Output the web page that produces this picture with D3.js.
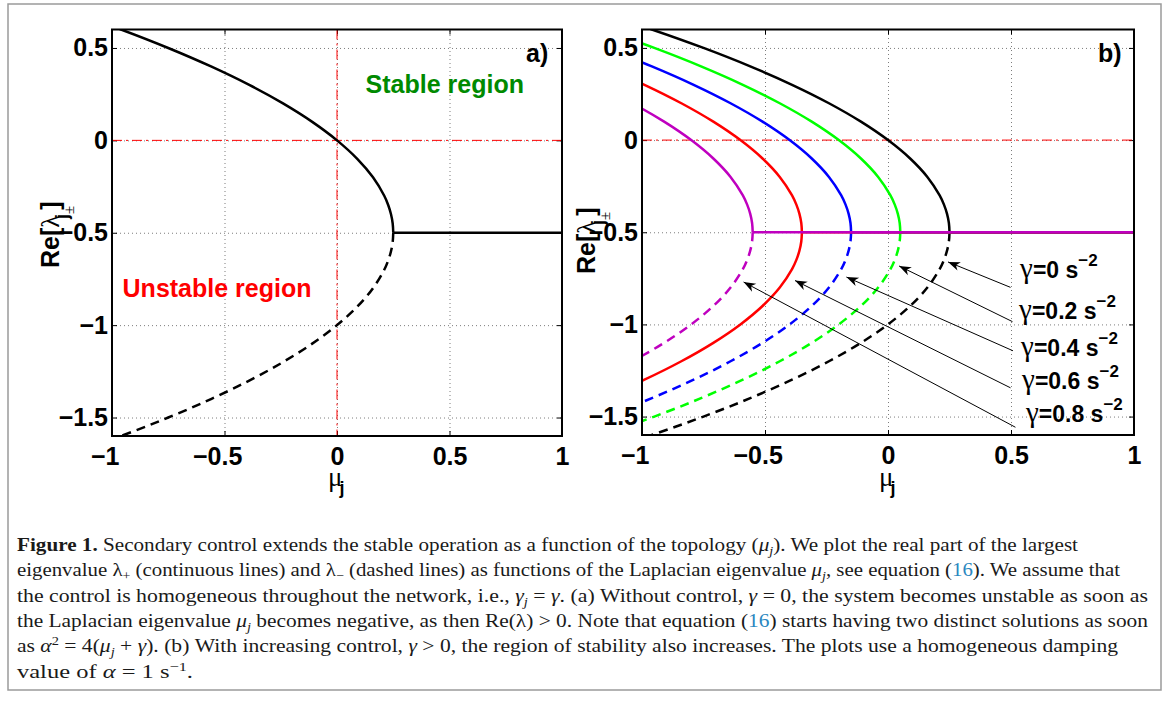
<!DOCTYPE html>
<html>
<head>
<meta charset="utf-8">
<script src="https://cdn.jsdelivr.net/npm/d3@7"></script>
<style>
  body { margin: 0; background: #fff; }
  svg { display: block; }
  .tick text { font-family: "Liberation Sans", Arial, sans-serif; font-weight: bold; font-size: 25px; fill: #000; }
</style>
</head>
<body>
<svg id="fig" width="1168" height="702"></svg>
<script>
// ---- axis ticks ----
const muTicks = [-1, -0.5, 0, 0.5, 1];
const muTickLabels = ["\u22121", "\u22120.5", "0", "0.5", "1"];
const reTicks = [0.5, 0, -0.5, -1, -1.5];
const reTickLabels = ["0.5", "0", "\u22120.5", "\u22121", "\u22121.5"];

// ---- eigenvalue branches: Re[lambda] samples shared by every curve ----
const upperRe = [-0.5, -0.45, -0.4, -0.35, -0.3, -0.2, -0.1, 0, 0.1, 0.2, 0.3, 0.4, 0.5, 0.6, 0.7];
const lowerRe = [-0.5, -0.55, -0.6, -0.65, -0.7, -0.8, -0.9, -1.0, -1.1, -1.2, -1.3, -1.4, -1.5, -1.6, -1.7];

// mu_j positions of the branches for each control strength gamma
const muGamma00 = [0.25, 0.2475, 0.24, 0.2275, 0.21, 0.16, 0.09, 0, -0.11, -0.24, -0.39, -0.56, -0.75, -0.96, -1.19];
const muGamma02 = [0.05, 0.0475, 0.04, 0.0275, 0.01, -0.04, -0.11, -0.2, -0.31, -0.44, -0.59, -0.76, -0.95, -1.16, -1.39];
const muGamma04 = [-0.15, -0.1525, -0.16, -0.1725, -0.19, -0.24, -0.31, -0.4, -0.51, -0.64, -0.79, -0.96, -1.15, -1.36, -1.59];
const muGamma06 = [-0.35, -0.3525, -0.36, -0.3725, -0.39, -0.44, -0.51, -0.6, -0.71, -0.84, -0.99, -1.16, -1.35, -1.56, -1.79];
const muGamma08 = [-0.55, -0.5525, -0.56, -0.5725, -0.59, -0.64, -0.71, -0.8, -0.91, -1.04, -1.19, -1.36, -1.55, -1.76, -1.99];

const gammaValues = ["0", "0.2", "0.4", "0.6", "0.8"];
const gammaColors = ["#000000", "#00ff00", "#0000ff", "#ff0000", "#bf00bf"];
const gammaLowerDashed = [true, true, true, false, true];
const gammaMu = [muGamma00, muGamma02, muGamma04, muGamma06, muGamma08];
const degenerateRe = -0.5;   // both roots collapse onto Re = -alpha/2
const muMax = 1;

// annotation arrows in panel b (data coordinates)
const arrowTips  = [[0.244, -0.661], [0.045, -0.683], [-0.169, -0.743], [-0.378, -0.762], [-0.587, -0.770]];
const arrowTails = [[0.498, -0.799], [0.506, -0.985], [0.508, -1.143], [0.498, -1.344], [0.518, -1.558]];
const gammaLabelAt = [[0.537, -0.748], [0.533, -0.971], [0.541, -1.172], [0.545, -1.351], [0.561, -1.530]];

// panel a region labels (data coordinates)
const stableLabelAt = [0.127, 0.257];
const unstableLabelAt = [-0.953, -0.847];

const svg = d3.select("#fig");
const SANS = "'Liberation Sans', Arial, sans-serif";
const SERIF = "'Liberation Serif', 'Times New Roman', serif";

// outer figure frame
svg.append("rect")
  .attr("x", 8).attr("y", 4).attr("width", 1153).attr("height", 686)
  .attr("fill", "none").attr("stroke", "#9a9a9a").attr("stroke-width", 1.5);

function measure(str, size) {
  const t = svg.append("text").attr("font-family", SANS).attr("font-weight", "bold")
    .attr("font-size", size).text(str);
  const w = t.node().getComputedTextLength();
  t.remove();
  return w;
}
const minusW = measure("\u2212", 25);

function makePanel(box, id) {
  const x = d3.scaleLinear().domain([-1, 1]).range([box.l, box.r]);
  const y = d3.scaleLinear().domain([-1.6, 0.6]).range([box.b, box.t]);
  const g = svg.append("g");
  const w = box.r - box.l, h = box.b - box.t;

  g.append("defs").append("clipPath").attr("id", id)
    .append("rect").attr("x", box.l).attr("y", box.t).attr("width", w).attr("height", h);

  // dotted grid
  const gx = g.append("g").attr("transform", `translate(0,${box.b})`)
    .call(d3.axisBottom(x).tickValues(muTicks).tickSize(-h).tickFormat(""));
  const gy = g.append("g").attr("transform", `translate(${box.l},0)`)
    .call(d3.axisLeft(y).tickValues(reTicks).tickSize(-w).tickFormat(""));
  [gx, gy].forEach(s => {
    s.select(".domain").remove();
    s.selectAll("line").attr("stroke", "#6e6e6e").attr("stroke-width", 0.9).attr("stroke-dasharray", "1,3");
  });

  // tick marks and labels
  const ax = g.append("g").attr("transform", `translate(0,${box.b})`)
    .call(d3.axisBottom(x).tickValues(muTicks).tickFormat((d, i) => muTickLabels[i])
      .tickSizeInner(-5).tickSizeOuter(0).tickPadding(11));
  // numeric part centred under the tick, minus sign hanging to the left
  ax.selectAll("text").attr("dx", function () {
    return this.textContent.startsWith("\u2212") ? -minusW / 2 : 0;
  });
  const ay = g.append("g").attr("transform", `translate(${box.l},0)`)
    .call(d3.axisLeft(y).tickValues(reTicks).tickFormat((d, i) => reTickLabels[i])
      .tickSizeInner(-5).tickSizeOuter(0).tickPadding(4));
  const at = g.append("g").attr("transform", `translate(0,${box.t})`)
    .call(d3.axisTop(x).tickValues(muTicks).tickFormat("").tickSizeInner(-5).tickSizeOuter(0));
  const ar = g.append("g").attr("transform", `translate(${box.r},0)`)
    .call(d3.axisRight(y).tickValues(reTicks).tickFormat("").tickSizeInner(-5).tickSizeOuter(0));
  [ax, ay, at, ar].forEach(s => {
    s.select(".domain").remove();
    s.selectAll("line").attr("stroke", "#000").attr("stroke-width", 1);
  });

  const plot = g.append("g").attr("clip-path", `url(#${id})`);
  return { x, y, g, plot, box };
}

function zeroLine(P, vertical) {
  const s = P.plot.append("line").attr("stroke", "#ff0000").attr("stroke-width", 1)
    .attr("stroke-dasharray", "10,4,2,4");
  if (vertical) s.attr("x1", P.x(0)).attr("x2", P.x(0)).attr("y1", P.box.t).attr("y2", P.box.b);
  else s.attr("x1", P.box.l).attr("x2", P.box.r).attr("y1", P.y(0)).attr("y2", P.y(0));
}

function drawBranches(P, mu, color, lowerDashed) {
  const line = d3.line().x(d => P.x(d[0])).y(d => P.y(d[1])).curve(d3.curveCatmullRom.alpha(0.5));
  const up = mu.map((m, i) => [m, upperRe[i]]);
  const lo = mu.map((m, i) => [m, lowerRe[i]]);
  P.plot.append("path").attr("d", line(lo)).attr("fill", "none").attr("stroke", color)
    .attr("stroke-width", 2.5).attr("stroke-dasharray", lowerDashed ? "9,6" : null);
  P.plot.append("path").attr("d", line(up)).attr("fill", "none").attr("stroke", color)
    .attr("stroke-width", 2.5);
  P.plot.append("path").attr("d", line([[mu[0], degenerateRe], [muMax, degenerateRe]]))
    .attr("fill", "none").attr("stroke", color).attr("stroke-width", 2.5);
}

function frame(P) {
  P.g.append("rect").attr("x", P.box.l).attr("y", P.box.t)
    .attr("width", P.box.r - P.box.l).attr("height", P.box.b - P.box.t)
    .attr("fill", "none").attr("stroke", "#000").attr("stroke-width", 2);
}

function axisTitles(P, yLabelX, yLabelY) {
  // x: mu_j
  const tx = P.g.append("text").attr("x", P.x(0) - 9).attr("y", 486).attr("fill", "#000");
  tx.append("tspan").attr("font-family", SERIF).attr("font-size", 27).text("\u03bc");
  tx.append("tspan").attr("font-family", SANS).attr("font-weight", "bold").attr("font-size", 18)
    .attr("dx", -3).attr("dy", 8).text("j");
  // y: Re[lambda_{j+-}]
  const ty = P.g.append("text").attr("transform", `translate(${yLabelX},${yLabelY}) rotate(-90)`)
    .attr("fill", "#000");
  ty.append("tspan").attr("font-family", SANS).attr("font-weight", "bold").attr("font-size", 25).text("Re[");
  ty.append("tspan").attr("font-family", SERIF).attr("font-size", 26).text("\u03bb");
  ty.append("tspan").attr("font-family", SANS).attr("font-weight", "bold").attr("font-size", 18)
    .attr("dx", -4).attr("dy", 9).text("j");
  ty.append("tspan").attr("font-family", SERIF).attr("font-size", 15).attr("dy", 6).text("\u00b1");
  ty.append("tspan").attr("font-family", SANS).attr("font-weight", "bold").attr("font-size", 25)
    .attr("dx", -4).attr("dy", -15).text("]");
}

// ================= panel a =================
const A = makePanel({ l: 112, r: 562, t: 29.5, b: 436 }, "clipA");
zeroLine(A, false);
zeroLine(A, true);
drawBranches(A, muGamma00, "#000000", true);
frame(A);
A.g.append("text").attr("x", A.x(stableLabelAt[0])).attr("y", A.y(stableLabelAt[1]))
  .attr("font-family", SANS).attr("font-weight", "bold").attr("font-size", 25).attr("fill", "#008a00")
  .text("Stable region");
A.g.append("text").attr("x", A.x(unstableLabelAt[0])).attr("y", A.y(unstableLabelAt[1]))
  .attr("font-family", SANS).attr("font-weight", "bold").attr("font-size", 25).attr("fill", "#ff0000")
  .text("Unstable region");
A.g.append("text").attr("x", A.box.r - 36).attr("y", A.box.t + 32)
  .attr("font-family", SANS).attr("font-weight", "bold").attr("font-size", 25).text("a)");
axisTitles(A, 59, 268);

// ================= panel b =================
const B = makePanel({ l: 642, r: 1134, t: 29.5, b: 435 }, "clipB");
zeroLine(B, false);
gammaMu.forEach((mu, i) => drawBranches(B, mu, gammaColors[i], gammaLowerDashed[i]));
frame(B);
B.g.append("text").attr("x", B.box.r - 36).attr("y", B.box.t + 32)
  .attr("font-family", SANS).attr("font-weight", "bold").attr("font-size", 25).text("b)");
axisTitles(B, 595, 274);

// arrows pointing from the gamma labels onto the lambda_- branches
arrowTips.forEach((tip, i) => {
  const x1 = B.x(arrowTails[i][0]), y1 = B.y(arrowTails[i][1]);
  const x2 = B.x(tip[0]), y2 = B.y(tip[1]);
  const ang = Math.atan2(y2 - y1, x2 - x1) * 180 / Math.PI;
  B.g.append("line").attr("x1", x1).attr("y1", y1).attr("x2", x2).attr("y2", y2)
    .attr("stroke", "#000").attr("stroke-width", 1);
  B.g.append("path").attr("d", "M0,0 L-12,-4.5 L-8.5,0 L-12,4.5 Z").attr("fill", "#000")
    .attr("transform", `translate(${x2},${y2}) rotate(${ang})`);
});
gammaLabelAt.forEach((p, i) => {
  const t = B.g.append("text").attr("x", B.x(p[0])).attr("y", B.y(p[1])).attr("fill", "#000");
  t.append("tspan").attr("font-family", SERIF).attr("font-size", 29).text("\u03b3");
  t.append("tspan").attr("font-family", SANS).attr("font-weight", "bold").attr("font-size", 23)
    .text("=" + gammaValues[i] + " s");
  t.append("tspan").attr("font-family", SANS).attr("font-weight", "bold").attr("font-size", 17)
    .attr("dy", -12).text("\u22122");
});

// ================= caption =================
const LINK = "#2b87c0";
const captionLines = [
  [{ t: "Figure 1.", b: 1 }, { t: " Secondary control extends the stable operation as a function of the topology (" },
   { t: "\u03bc", i: 1 }, { t: "j", i: 1, s: 4 }, { t: "). We plot the real part of the largest" }],
  [{ t: "eigenvalue \u03bb" }, { t: "+", s: 4 }, { t: " (continuous lines) and \u03bb" }, { t: "\u2212", s: 4 },
   { t: " (dashed lines) as functions of the Laplacian eigenvalue " }, { t: "\u03bc", i: 1 }, { t: "j", i: 1, s: 4 },
   { t: ", see equation (" }, { t: "16", c: LINK }, { t: "). We assume that" }],
  [{ t: "the control is homogeneous throughout the network, i.e., " }, { t: "\u03b3", i: 1 }, { t: "j", i: 1, s: 4 },
   { t: " = " }, { t: "\u03b3", i: 1 }, { t: ". (a) Without control, " }, { t: "\u03b3", i: 1 },
   { t: " = 0, the system becomes unstable as soon as" }],
  [{ t: "the Laplacian eigenvalue " }, { t: "\u03bc", i: 1 }, { t: "j", i: 1, s: 4 },
   { t: " becomes negative, as then Re(\u03bb) > 0. Note that equation (" }, { t: "16", c: LINK },
   { t: ") starts having two distinct solutions as soon" }],
  [{ t: "as " }, { t: "\u03b1", i: 1 }, { t: "2", s: -7 }, { t: " = 4(" }, { t: "\u03bc", i: 1 }, { t: "j", i: 1, s: 4 },
   { t: " + " }, { t: "\u03b3", i: 1 }, { t: "). (b) With increasing control, " }, { t: "\u03b3", i: 1 },
   { t: " > 0, the region of stability also increases. The plots use a homogeneous damping" }],
  [{ t: "value of " }, { t: "\u03b1", i: 1 }, { t: " = 1 s" }, { t: "\u22121", s: -7 }, { t: "." }]
];
const captionEnds = [1078, 1120, 1148, 1148, 1118, 193];
const captionX = 17, captionY0 = 551, captionStep = 25.3;

captionLines.forEach((runs, li) => {
  const t = svg.append("text").attr("x", captionX).attr("y", captionY0 + li * captionStep)
    .attr("font-family", SERIF).attr("font-size", 19.5).attr("fill", "#1a1a1a")
    .attr("textLength", captionEnds[li] - captionX).attr("lengthAdjust", "spacingAndGlyphs");
  let shift = 0;
  runs.forEach(r => {
    const s = r.s || 0;
    const ts = t.append("tspan").text(r.t);
    if (s !== shift) ts.attr("dy", s - shift);
    shift = s;
    if (s) ts.attr("font-size", 13);
    if (r.b) ts.attr("font-weight", "bold");
    if (r.i) ts.attr("font-style", "italic");
    if (r.c) ts.attr("fill", r.c);
  });
});
</script>
</body>
</html>
